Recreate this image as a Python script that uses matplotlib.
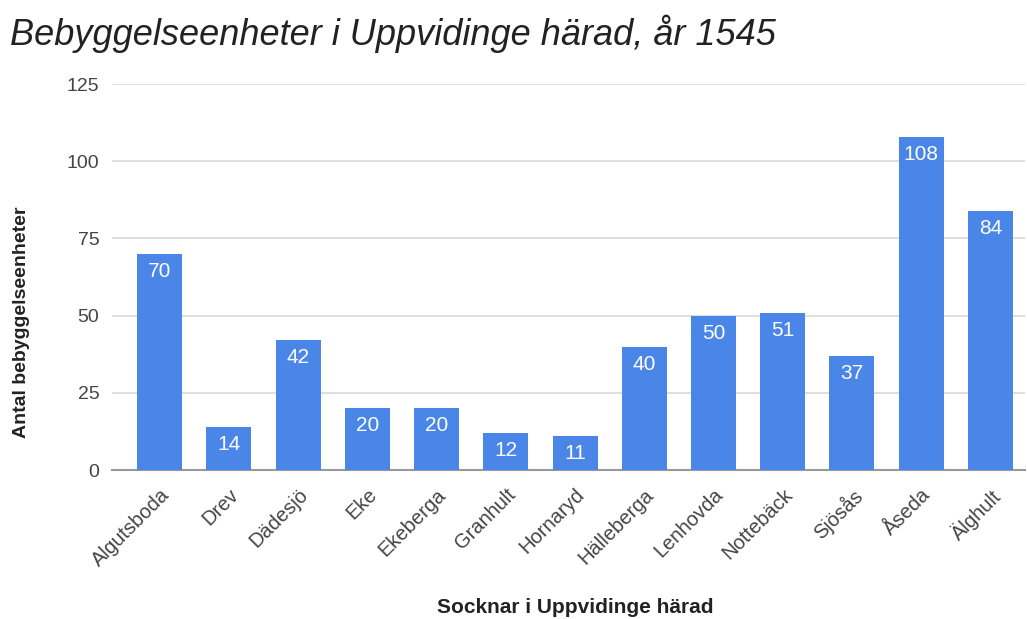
import matplotlib.pyplot as plt

plt.rcParams['font.family'] = ['Liberation Sans', 'DejaVu Sans']

# Data
socknar = ['Algutsboda', 'Drev', 'Dädesjö', 'Eke', 'Ekeberga', 'Granhult', 'Hornaryd',
           'Hälleberga', 'Lenhovda', 'Nottebäck', 'Sjösås', 'Åseda', 'Älghult']
antal = [70, 14, 42, 20, 20, 12, 11, 40, 50, 51, 37, 108, 84]
yticks = [0, 25, 50, 75, 100, 125]

fig = plt.figure(figsize=(10.27, 6.19), dpi=100)
ax = fig.add_axes([0.109, 0.2407, 0.889, 0.6235])

x = range(len(socknar))
bars = ax.bar(x, antal, width=0.65, color='#4a86e8', zorder=3)

for b, v in zip(bars, antal):
    ax.text(b.get_x() + b.get_width() / 2, v - 2.6, str(v), ha='center', va='top',
            color='white', fontsize=15, zorder=4)

ax.set_xlim(-0.69, 12.5)
ax.set_ylim(0, 125)
ax.set_yticks(yticks)
ax.set_xticks(list(x))
ax.set_xticklabels(socknar, rotation=45, ha='right', rotation_mode='anchor', fontsize=14.5, color='#444444')
ax.tick_params(axis='y', labelsize=14, labelcolor='#444444', length=0, pad=9)
ax.tick_params(axis='x', length=0, pad=11)

ax.grid(axis='y', color='#d9d9d9', linewidth=1.2, zorder=0)
for s in ['top', 'right', 'left']:
    ax.spines[s].set_visible(False)
ax.spines['bottom'].set_color('#999999')
ax.spines['bottom'].set_linewidth(1.5)

fig.text(0.021, 1 - 322 / 619, 'Antal bebyggelseenheter', rotation=90, ha='center', va='center',
         fontsize=14, fontweight='bold', color='#222222')
fig.text(0.56, 0.003, 'Socknar i Uppvidinge härad', ha='center', va='bottom',
         fontsize=15, fontweight='bold', color='#222222')
fig.text(0.01, 1 - 45 / 619, 'Bebyggelseenheter i Uppvidinge härad, år 1545', ha='left', va='baseline',
         fontsize=26, fontstyle='italic', color='#222222')

fig.savefig('out.png', dpi=100)
